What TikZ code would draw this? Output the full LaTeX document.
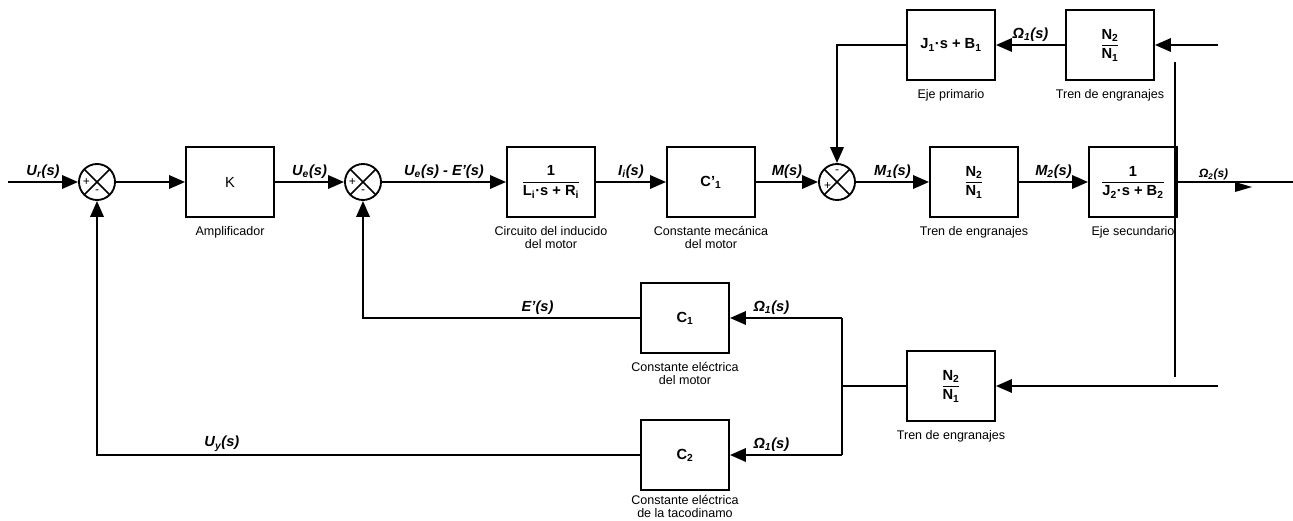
\documentclass[tikz,border=0pt]{standalone}
\usepackage{fontspec}
\setmainfont{Liberation Sans}
\usepackage{amsmath}
\usetikzlibrary{arrows.meta, positioning}
\newcommand{\blockfrac}[2]{$\displaystyle\frac{\text{#1}}{\text{#2}}$}

\begin{document}
\begin{tikzpicture}[
        x=0.75pt, y=-0.75pt,
        every node/.style={font=\fontsize{11}{13}\selectfont},
        block/.style={rectangle, draw, line width=1.4pt, minimum width=66pt, minimum height=53pt, align=center, font=\fontsize{11}{13}\selectfont\bfseries},
        sumnode/.style={circle, draw, line width=1.4pt, minimum size=27pt, inner sep=0pt,
            path picture={\draw[line width=1.2pt] (path picture bounding box.north west) -- (path picture bounding box.south east)
                (path picture bounding box.north east) -- (path picture bounding box.south west);}},
        sign/.style={font=\fontsize{9}{9}\selectfont, inner sep=0pt},
        caption/.style={font=\fontsize{9.4}{9.8}\selectfont, align=center, inner sep=1pt},
        sig/.style={font=\fontsize{11}{13}\selectfont\bfseries\itshape, inner sep=2pt},
        arrow/.style={-{Triangle[length=12pt, width=10pt]}, line width=1.8pt},
        wire/.style={line width=1.8pt},
        thinwire/.style={line width=1pt}
    ]
        \useasboundingbox (0,0) rectangle (1293,521);

        % Forward path
        \node[sumnode] (s1) at (97,182) {};
        \node[block, font=\fontsize{11}{13}\selectfont] (amp) at (230,182) {K};
        \node[sumnode] (s2) at (363,182) {};
        \node[block] (arm) at (551,182) {\blockfrac{1}{L\textsubscript{i}·s + R\textsubscript{i}}};
        \node[block] (mec) at (711,182) {C’\textsubscript{1}};
        \node[sumnode] (s3) at (837,182) {};
        \node[block] (gear) at (974,182) {\blockfrac{N\textsubscript{2}}{N\textsubscript{1}}};
        \node[block] (shaft2) at (1133,182) {\blockfrac{1}{J\textsubscript{2}·s + B\textsubscript{2}}};

        % Load path on top
        \node[block] (shaft1) at (951,45) {J\textsubscript{1}·s + B\textsubscript{1}};
        \node[block] (geartop) at (1110,45) {\blockfrac{N\textsubscript{2}}{N\textsubscript{1}}};

        % Feedback blocks
        \node[block] (gearbot) at (951,386) {\blockfrac{N\textsubscript{2}}{N\textsubscript{1}}};
        \node[block] (elec) at (685,318) {C\textsubscript{1}};
        \node[block] (tacho) at (685,455) {C\textsubscript{2}};

        % Signs
        \node[sign] (s1p) at ([xshift=-8pt]s1.center) {+};
        \node[sign] (s1m) at ([yshift=-7.5pt]s1.center) {-};
        \node[sign] (s2p) at ([xshift=-8pt]s2.center) {+};
        \node[sign] (s2m) at ([yshift=-7.5pt]s2.center) {-};
        \node[sign] (s3m) at ([yshift=7.5pt]s3.center) {-};
        \node[sign] (s3p) at ([xshift=-7pt, yshift=-3pt]s3.center) {+};

        % Captions
        \node[caption, below=5pt of amp] (ampcap) {Amplificador};
        \node[caption, below=5pt of arm] (armcap) {Circuito del inducido\\del motor};
        \node[caption, below=5pt of mec] (meccap) {Constante mecánica\\del motor};
        \node[caption, below=5pt of gear] (gearcap) {Tren de engranajes};
        \node[caption, below=5pt of shaft2] (shaft2cap) {Eje secundario};
        \node[caption, below=5pt of shaft1] (shaft1cap) {Eje primario};
        \node[caption, below=5pt of geartop] (geartopcap) {Tren de engranajes};
        \node[caption, below=5pt of gearbot] (gearbotcap) {Tren de engranajes};
        \node[caption, below=5pt of elec] (eleccap) {Constante eléctrica\\del motor};
        \node[caption, below=3pt of tacho, inner sep=0pt] (tachocap) {Constante eléctrica\\de la tacodinamo};

        % Arrows (forward)
        \coordinate (in) at (8,182);
        \coordinate (out) at (1293,182);
        \draw[arrow] (in) -- node[sig, above] (lur) {U\textsubscript{r}(s)} (s1);
        \draw[arrow] (s1) -- (amp);
        \draw[arrow] (amp) -- node[sig, above] (lue) {U\textsubscript{e}(s)} (s2);
        \draw[arrow] (s2) -- node[sig, above] (lerr) {U\textsubscript{e}(s) - E’(s)} (arm);
        \draw[arrow] (arm) -- node[sig, above] (lii) {I\textsubscript{i}(s)} (mec);
        \draw[arrow] (mec) -- node[sig, above] (lm) {M(s)} (s3);
        \draw[arrow] (s3) -- node[sig, above] (lm1) {M\textsubscript{1}(s)} (gear);
        \draw[arrow] (gear) -- node[sig, above] (lm2) {M\textsubscript{2}(s)} (shaft2);
        \draw[wire] (shaft2) -- node[sig, above, pos=0.31, inner sep=0.5pt, font=\fontsize{9}{10}\selectfont\bfseries\itshape] (lw2) {Ω\textsubscript{2}(s)} (out);
        \coordinate (tip) at (1252,187);
        \fill (tip) -- ++(-17,-5) -- ++(0,10) -- cycle;

        % Arrows (load)
        \coordinate (intop) at (1218,45);
        \draw[arrow] (intop) -- (geartop);
        \draw[arrow] (geartop) -- node[sig, above] (lw1a) {Ω\textsubscript{1}(s)} (shaft1);
        \draw[arrow] (shaft1) -| (s3);
        \coordinate (vtop) at (1175,62);
        \coordinate (vbot) at (1175,377);
        \draw[thinwire] (vtop) -- (vbot);

        % Arrows (feedback)
        \coordinate (inbot) at (1218,386);
        \coordinate (branch) at (842,386);
        \coordinate (btop) at (842,318);
        \coordinate (bbot) at (842,455);
        \draw[arrow] (inbot) -- (gearbot);
        \draw[thinwire] (gearbot) -- (branch);
        \draw[wire] (btop) -- (bbot);
        \draw[arrow] (btop) -- node[sig, above, pos=0.63] (lw1b) {Ω\textsubscript{1}(s)} (elec);
        \draw[arrow] (bbot) -- node[sig, above, pos=0.63] (lw1c) {Ω\textsubscript{1}(s)} (tacho);
        \draw[arrow] (elec) -| node[sig, above, pos=0.185] (le) {E’(s)} (s2);
        \draw[arrow] (tacho) -| node[sig, above, pos=0.385] (luy) {U\textsubscript{y}(s)} (s1);

    \end{tikzpicture}
\end{document}
